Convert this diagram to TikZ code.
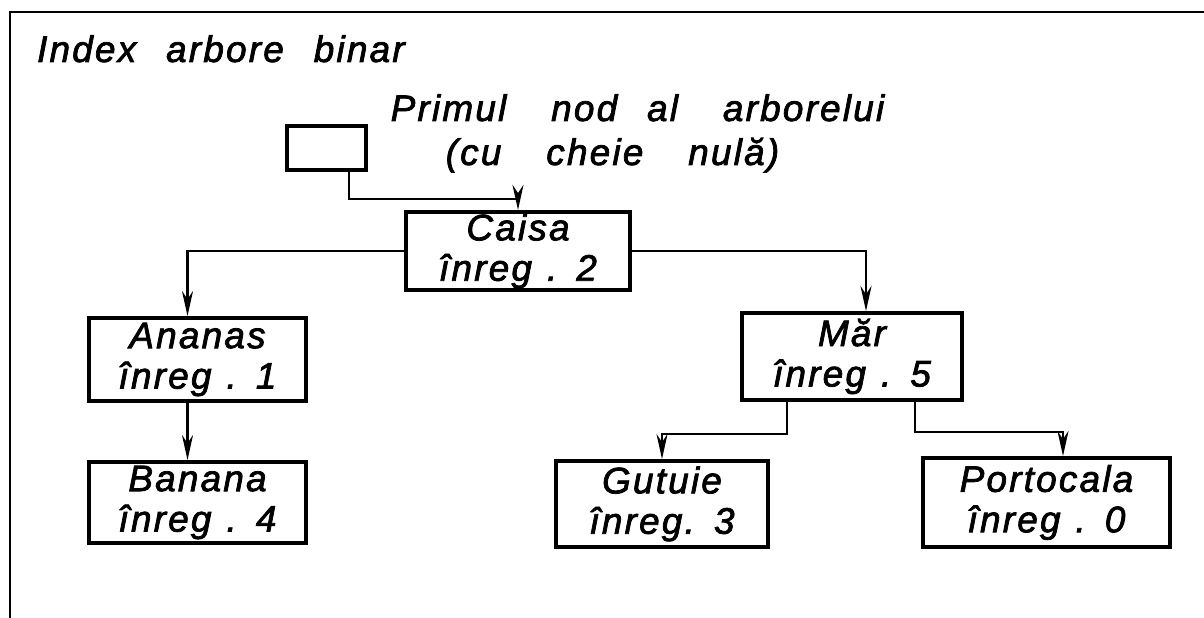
\documentclass[tikz,border=0pt]{standalone}
\usepackage{fontspec}
\setmainfont{Liberation Sans}[LetterSpace=6,WordSpace=1.2,ItalicFeatures={FakeBold=2}]
\usetikzlibrary{arrows.meta}
\begin{document}
\begin{tikzpicture}[
    txt/.style={font=\itshape\fontsize{21}{23}\selectfont,inner sep=1pt},
    note/.style={font=\itshape\fontsize{21}{23}\selectfont,inner sep=0pt,anchor=base},
    box/.style={draw,line width=2.2pt,txt,align=center,inner sep=1pt},
    link/.style={line width=1.4pt,-{Stealth[length=5mm,width=2.2mm]}}
  ]
  \useasboundingbox (0,0) rectangle (24.08,12.36);
  \draw[line width=1.6pt] (0.2,0) |- (24.08,12.12);
  \node[txt,anchor=base west] (title) at (0.7,11.12) {Index\ \ arbore\ \ binar};
  \node[note,text depth=0pt] (note1) at (12.75,9.94) {Primul\ \ \ nod\ \ al\ \ \ arborelui};
  \node[note,text height=15pt] (note2) at (12.25,9.06) {(cu\ \ \ cheie\ \ \ nulă)};
  \node[box,minimum width=1.58cm,minimum height=0.88cm] (root) at (6.53,9.4) {};
  \node[box,minimum width=4.48cm,minimum height=1.56cm] (caisa) at (10.36,7.34) {Caisa\\înreg . 2};
  \node[box,minimum width=4.34cm,minimum height=1.66cm] (ananas) at (3.95,5.17) {Ananas\\înreg . 1};
  \node[box,minimum width=4.34cm,minimum height=1.62cm] (banana) at (3.95,2.31) {Banana\\înreg . 4};
  \node[box,minimum width=4.4cm,minimum height=1.74cm] (mar) at (17.04,5.23) {Măr\\înreg . 5};
  \node[box,minimum width=4.24cm,minimum height=1.72cm] (gutuie) at (13.24,2.28) {Gutuie\\înreg. 3};
  \node[box,minimum width=4.94cm,minimum height=1.78cm] (portocala) at (20.93,2.31) {Portocala\\înreg . 0};
  \draw[link] ([xshift=0.45cm]root.south) -- ++(0,-0.54) -| (caisa.north);
  \draw[link] (caisa.west) -| ([xshift=-0.2cm]ananas.north);
  \draw[link] (caisa.east) -| ([xshift=0.28cm]mar.north);
  \draw[link] ([xshift=-0.2cm]ananas.south) -- ([xshift=-0.2cm]banana.north);
  \draw[link] ([xshift=-1.3cm]mar.south) -- ++(0,-0.64) -| (gutuie.north);
  \draw[link] ([xshift=1.26cm]mar.south) -- ++(0,-0.6) -| ([xshift=0.33cm]portocala.north);
\end{tikzpicture}
\end{document}
